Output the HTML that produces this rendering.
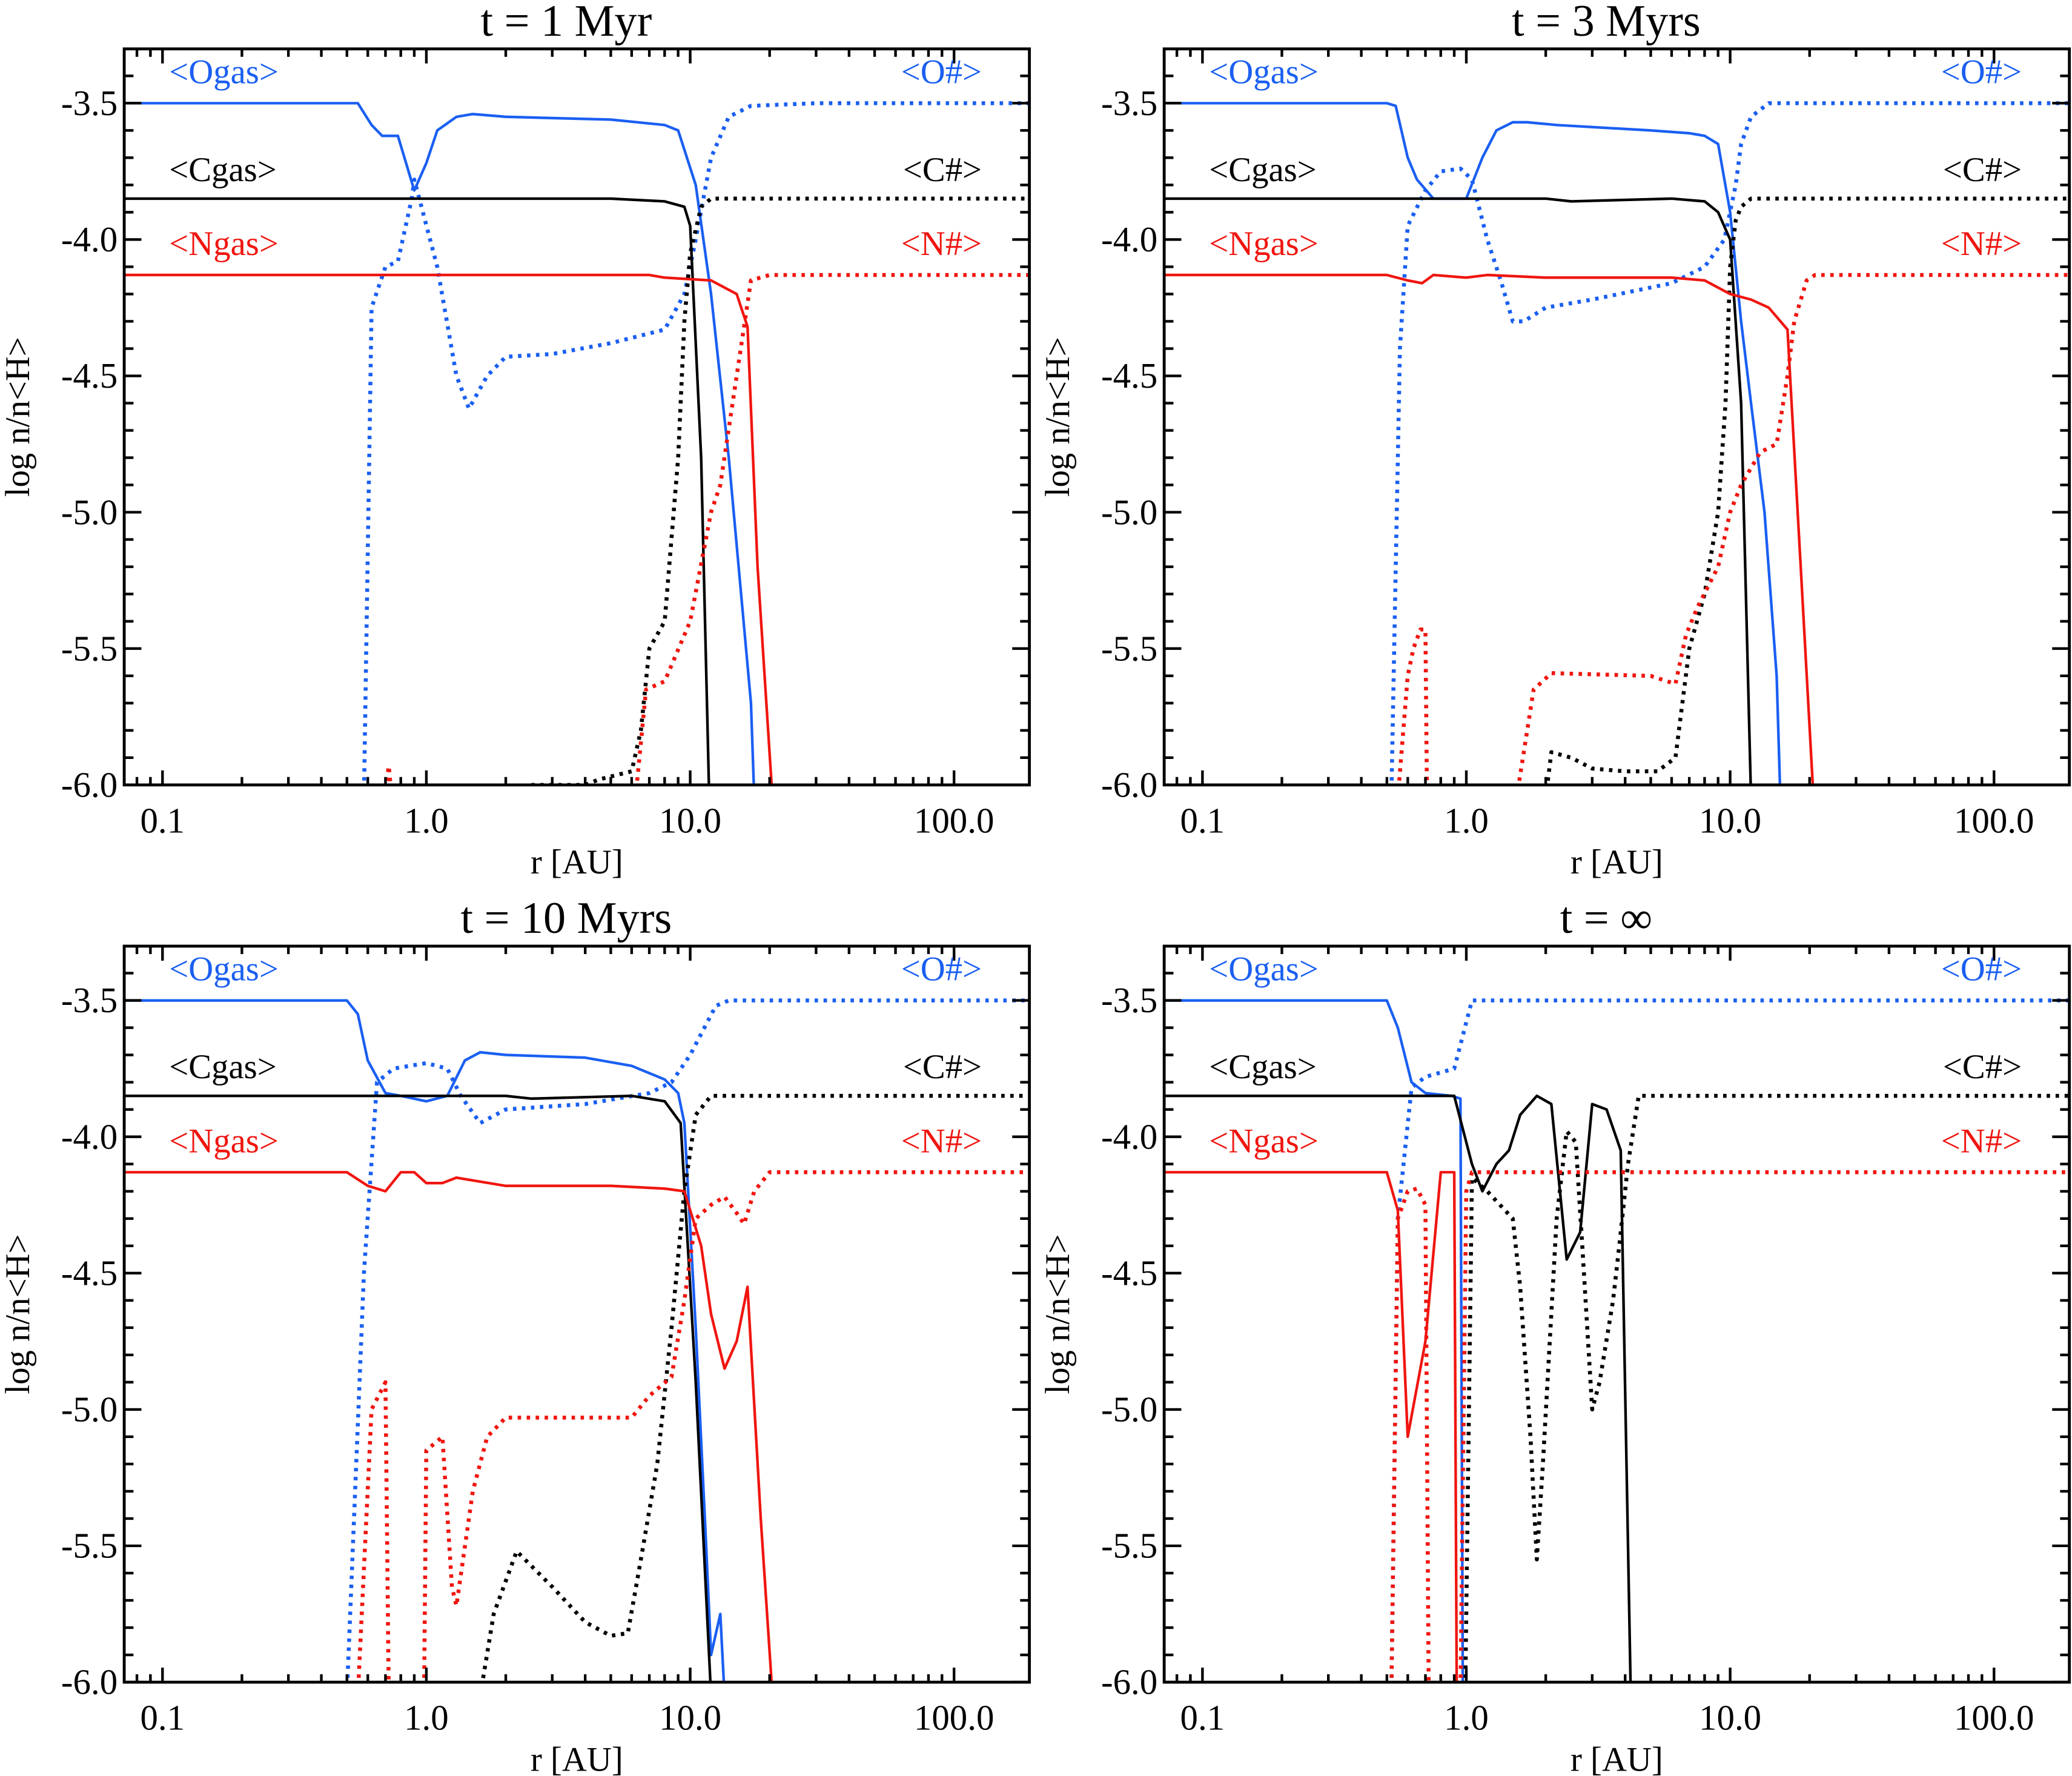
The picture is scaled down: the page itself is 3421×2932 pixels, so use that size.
<!DOCTYPE html>
<html><head><meta charset="utf-8"><style>
html,body{margin:0;padding:0;background:#fff}
svg{display:block}
text{font-family:"Liberation Serif",serif}
</style></head><body>
<svg id="chart" width="3421" height="2932" viewBox="0 0 1568 1344" preserveAspectRatio="none" xmlns="http://www.w3.org/2000/svg"></svg>
<script>
const panelTitles = ["t = 1 Myr","t = 3 Myrs","t = 10 Myrs","t = \u221E"];
const xTickValues = [0.1,1,10,100];
const xTickLabels = ["0.1","1.0","10.0","100.0"];
const yTickValues = [-3.5,-4.0,-4.5,-5.0,-5.5,-6.0];
const yTickLabels = ["-3.5","-4.0","-4.5","-5.0","-5.5","-6.0"];
// series: [r AU, log n/n<H>]; null breaks line
const p1Ogas=[[0.07,-3.5],[0.55,-3.5],[0.62,-3.58],[0.68,-3.62],[0.78,-3.62],[0.9,-3.82],[1.0,-3.72],[1.1,-3.6],[1.3,-3.55],[1.5,-3.54],[2,-3.55],[5,-3.56],[8,-3.58],[9,-3.6],[10.5,-3.8],[12,-4.2],[14,-4.8],[17,-5.7],[17.5,-6.05]];
const p1Odust=[[0.58,-6.05],[0.62,-4.25],[0.7,-4.1],[0.78,-4.08],[0.88,-3.85],[0.9,-3.78],[1.1,-4.1],[1.3,-4.5],[1.45,-4.62],[1.7,-4.5],[2.0,-4.43],[3,-4.42],[5,-4.38],[8,-4.33],[9.5,-4.2],[10.5,-4.0],[12,-3.7],[14,-3.55],[17,-3.51],[30,-3.5],[200,-3.5]];
const p1Cgas=[[0.07,-3.85],[5,-3.85],[8,-3.86],[9.5,-3.88],[10,-3.95],[11,-4.8],[11.8,-6.05]];
const p1Cdust=[[2.5,-6.0],[4,-6.0],[4.5,-5.98],[6,-5.95],[6.5,-5.8],[7,-5.5],[8,-5.4],[9,-4.8],[9.5,-4.3],[10,-4.05],[11,-3.88],[12,-3.85],[200,-3.85]];
const p1Ngas=[[0.07,-4.13],[7,-4.13],[8,-4.14],[12,-4.15],[15,-4.2],[16.5,-4.32],[18,-5.2],[20.5,-6.05]];
const p1Ndust=[[0.69,-6.05],[0.72,-5.93],[0.74,-6.05],null,[6.2,-6.05],[6.8,-5.65],[8,-5.62],[10,-5.4],[12,-5.0],[13,-4.9],[15,-4.5],[17,-4.15],[20,-4.13],[200,-4.13]];
const p2Ogas=[[0.07,-3.5],[0.5,-3.5],[0.54,-3.51],[0.6,-3.7],[0.65,-3.78],[0.75,-3.85],[1.0,-3.85],[1.15,-3.7],[1.3,-3.6],[1.5,-3.57],[1.7,-3.57],[2.2,-3.58],[5,-3.6],[7,-3.61],[8,-3.62],[9,-3.65],[10,-3.9],[11,-4.3],[12,-4.6],[13.5,-5.0],[15,-5.6],[15.5,-6.05]];
const p2Odust=[[0.52,-6.05],[0.56,-4.4],[0.6,-3.95],[0.7,-3.82],[0.8,-3.75],[0.95,-3.74],[1.05,-3.78],[1.2,-4.0],[1.35,-4.15],[1.5,-4.3],[1.65,-4.3],[2,-4.25],[3,-4.22],[6,-4.16],[8,-4.1],[9.5,-4.0],[10.5,-3.8],[11,-3.65],[12,-3.55],[14,-3.5],[200,-3.5]];
const p2Cgas=[[0.07,-3.85],[2,-3.85],[2.5,-3.86],[6,-3.85],[8,-3.86],[9,-3.9],[10,-4.0],[11,-4.6],[12,-6.05]];
const p2Cdust=[[2.0,-6.05],[2.1,-5.88],[2.5,-5.9],[3,-5.94],[4,-5.95],[5.3,-5.95],[6.2,-5.9],[7,-5.5],[8,-5.3],[9,-5.0],[9.6,-4.6],[10,-4.1],[10.5,-3.93],[11,-3.88],[12,-3.85],[200,-3.85]];
const p2Ngas=[[0.07,-4.13],[0.5,-4.13],[0.6,-4.15],[0.68,-4.16],[0.75,-4.13],[1.0,-4.14],[1.2,-4.13],[2,-4.14],[6,-4.14],[8,-4.15],[10,-4.2],[12,-4.22],[14,-4.25],[16.5,-4.33],[18.5,-5.2],[20.7,-6.05]];
const p2Ndust=[[0.55,-6.05],[0.6,-5.6],[0.63,-5.5],[0.67,-5.43],[0.7,-5.43],[0.71,-6.05],null,[1.55,-6.05],[1.8,-5.65],[2.1,-5.59],[5,-5.6],[6.2,-5.63],[6.8,-5.45],[7.5,-5.35],[9,-5.2],[10,-5.0],[11,-4.9],[13,-4.78],[15,-4.75],[16.5,-4.5],[17.5,-4.3],[19.5,-4.15],[21,-4.13],[200,-4.13]];
const p3Ogas=[[0.07,-3.5],[0.5,-3.5],[0.55,-3.55],[0.6,-3.72],[0.7,-3.84],[0.8,-3.85],[1.0,-3.87],[1.2,-3.85],[1.4,-3.72],[1.6,-3.69],[2,-3.7],[4,-3.71],[6,-3.74],[8,-3.79],[9,-3.84],[9.5,-3.95],[10.5,-4.7],[11.5,-5.5],[12,-5.9],[13,-5.75],[13.5,-6.05]];
const p3Odust=[[0.5,-6.05],[0.58,-4.5],[0.65,-3.8],[0.75,-3.75],[1.0,-3.73],[1.2,-3.75],[1.35,-3.85],[1.6,-3.95],[2,-3.9],[4,-3.88],[7,-3.84],[8.5,-3.8],[10,-3.7],[12.5,-3.52],[14,-3.5],[200,-3.5]];
const p3Cgas=[[0.07,-3.85],[2,-3.85],[2.5,-3.86],[6,-3.85],[8,-3.87],[9.2,-3.95],[10.5,-4.9],[12,-6.05]];
const p3Cdust=[[1.6,-6.05],[1.8,-5.75],[2.2,-5.52],[3,-5.65],[4,-5.78],[5,-5.83],[5.8,-5.82],[6.5,-5.55],[7.5,-5.2],[8.5,-4.7],[9.5,-4.2],[10.5,-3.92],[12,-3.85],[200,-3.85]];
const p3Ngas=[[0.07,-4.13],[0.5,-4.13],[0.6,-4.18],[0.7,-4.2],[0.8,-4.13],[0.9,-4.13],[1.0,-4.17],[1.15,-4.17],[1.3,-4.15],[1.5,-4.16],[2,-4.18],[5,-4.18],[8,-4.19],[9.5,-4.2],[11,-4.4],[12,-4.65],[13.5,-4.85],[15,-4.75],[16.5,-4.55],[18.5,-5.4],[20.5,-6.05]];
const p3Ndust=[[0.55,-6.05],[0.62,-5.0],[0.7,-4.9],[0.72,-6.05],null,[0.98,-6.05],[1.0,-5.15],[1.15,-5.1],[1.25,-5.65],[1.3,-5.72],[1.5,-5.3],[1.7,-5.1],[2,-5.03],[4,-5.03],[6,-5.03],[7,-4.95],[8.5,-4.88],[9.5,-4.6],[10.5,-4.3],[12,-4.25],[13.5,-4.22],[15,-4.28],[16,-4.32],[17.5,-4.2],[20,-4.13],[200,-4.13]];
const p4Ogas=[[0.07,-3.5],[0.5,-3.5],[0.55,-3.6],[0.62,-3.8],[0.7,-3.84],[0.88,-3.85],[0.95,-3.86],[0.97,-6.05]];
const p4Odust=[[0.52,-6.05],[0.55,-4.3],[0.62,-3.82],[0.7,-3.78],[0.9,-3.75],[1.05,-3.5],[200,-3.5]];
const p4Cgas=[[0.07,-3.85],[0.9,-3.85],[1.05,-4.1],[1.15,-4.2],[1.3,-4.1],[1.45,-4.05],[1.6,-3.92],[1.85,-3.85],[2.1,-3.88],[2.4,-4.45],[2.7,-4.35],[3.0,-3.88],[3.4,-3.9],[3.85,-4.05],[4.2,-6.05]];
const p4Cdust=[[0.99,-6.05],[1.05,-4.15],[1.2,-4.2],[1.5,-4.3],[1.6,-4.55],[1.75,-5.1],[1.85,-5.55],[1.95,-5.2],[2.2,-4.3],[2.4,-3.98],[2.6,-4.02],[2.75,-4.4],[3.0,-5.0],[3.2,-4.9],[3.6,-4.6],[3.8,-4.4],[4.1,-4.1],[4.5,-3.85],[200,-3.85]];
const p4Ngas=[[0.07,-4.13],[0.5,-4.13],[0.55,-4.27],[0.6,-5.1],[0.7,-4.75],[0.8,-4.13],[0.9,-4.13],[0.92,-6.05]];
const p4Ndust=[[0.52,-6.05],[0.55,-4.3],[0.6,-4.2],[0.65,-4.19],[0.7,-4.25],[0.72,-6.05],null,[0.95,-6.05],[1.0,-4.2],[1.05,-4.13],[200,-4.13]];
const panelSeries=[[p1Ogas,p1Odust,p1Cgas,p1Cdust,p1Ngas,p1Ndust],[p2Ogas,p2Odust,p2Cgas,p2Cdust,p2Ngas,p2Ndust],[p3Ogas,p3Odust,p3Cgas,p3Cdust,p3Ngas,p3Ndust],[p4Ogas,p4Odust,p4Cgas,p4Cdust,p4Ngas,p4Ndust]];
const seriesNames=["o-gas","o-dust","c-gas","c-dust","n-gas","n-dust"];
const BLUE="#1a5ff2",RED="#f0150f",BLK="#000";
const seriesColors=[BLUE,BLUE,BLK,BLK,RED,RED];

const NS="http://www.w3.org/2000/svg";
const svg=document.getElementById('chart');
function mk(tag,attrs,parent){const e=document.createElementNS(NS,tag);for(const k in attrs)e.setAttribute(k,attrs[k]);parent.appendChild(e);return e;}
const origins=[[94,37],[881,37],[94,716],[881,716]];
const W=685,H=557;
const XMIN=Math.log10(0.0716),XMAX=Math.log10(193),YMIN=-6.0,YMAX=-3.301;

origins.forEach((o,pi)=>{
  const [x0,y0]=o;
  const xs=v=>x0+(Math.log10(v)-XMIN)/(XMAX-XMIN)*W;
  const ys=v=>y0+H-(v-YMIN)/(YMAX-YMIN)*H;
  const g=mk('g',{},svg);
  
  
  const t=mk('text',{x:x0+W/2-8,y:y0-10,'text-anchor':'middle','font-size':34},g);
  t.textContent=panelTitles[pi];
  
  
  const clip=mk('clipPath',{id:'c'+pi},g);
  mk('rect',{x:x0,y:y0,width:W,height:H},clip);
  const lg=mk('g',{'clip-path':'url(#c'+pi+')'},g);
  panelSeries[pi].forEach((ser,si)=>{
    let d='',pen=false;
    ser.forEach(p=>{if(!p){pen=false;return;}d+=(pen?'L':'M')+xs(p[0]).toFixed(1)+','+ys(p[1]).toFixed(1);pen=true;});
    const dotted=si%2===1;
    const pa=mk('path',{d:d,fill:'none',stroke:seriesColors[si],'stroke-width':dotted?3:2,'stroke-linejoin':'round','stroke-dasharray':dotted?'2.6 4.2':'none'},lg);
    
    
  });
  const bx=mk('rect',{x:x0,y:y0,width:W,height:H,fill:'none',stroke:'#000','stroke-width':2.2},g);
  
  
  for(let e=-2;e<=2;e++){for(let m=1;m<10;m++){const v=m*Math.pow(10,e);const X=xs(v);if(X<x0||X>x0+W)continue;const L=m===1?11:6;
    mk('line',{x1:X,y1:y0+H,x2:X,y2:y0+H-L,stroke:'#000','stroke-width':2},g);
    mk('line',{x1:X,y1:y0,x2:X,y2:y0+L,stroke:'#000','stroke-width':2},g);}}
  xTickValues.forEach((v,i)=>{const tx=mk('text',{x:xs(v),y:y0+H+36,'text-anchor':'middle','font-size':27},g);tx.textContent=xTickLabels[i];
    
    });
  for(let k=0;k<=30;k++){const v=-6+k*0.1;if(v>YMAX)break;const Y=ys(v);const major=k%5===0;const L=major?13:7;
    mk('line',{x1:x0,y1:Y,x2:x0+L,y2:Y,stroke:'#000','stroke-width':2},g);
    mk('line',{x1:x0+W,y1:Y,x2:x0+W-L,y2:Y,stroke:'#000','stroke-width':2},g);}
  yTickValues.forEach((v,i)=>{const tx=mk('text',{x:x0-5,y:ys(v)+9,'text-anchor':'end','font-size':27},g);tx.textContent=yTickLabels[i];
    
    });
  const xt=mk('text',{x:x0+W/2,y:y0+H+67,'text-anchor':'middle','font-size':26},g);xt.textContent='r [AU]';
  
  
  const yt=mk('text',{x:0,y:0,'text-anchor':'middle','font-size':26,transform:'translate('+(x0-72)+','+(y0+H/2)+') rotate(-90)'},g);yt.textContent='log n/n<H>';
  
  
  const labs=[['<Ogas>',BLUE,63,'start'],['<O#>',BLUE,63,'end'],['<Cgas>',BLK,137,'start'],['<C#>',BLK,137,'end'],['<Ngas>',RED,193,'start'],['<N#>',RED,193,'end']];
  labs.forEach(l=>{const tx=mk('text',{x:l[3]==='start'?x0+34:x0+W-36,y:y0+l[2]-37,'text-anchor':l[3],'font-size':26,fill:l[1]},g);tx.textContent=l[0];
    
    });
});
</script>
</body></html>
